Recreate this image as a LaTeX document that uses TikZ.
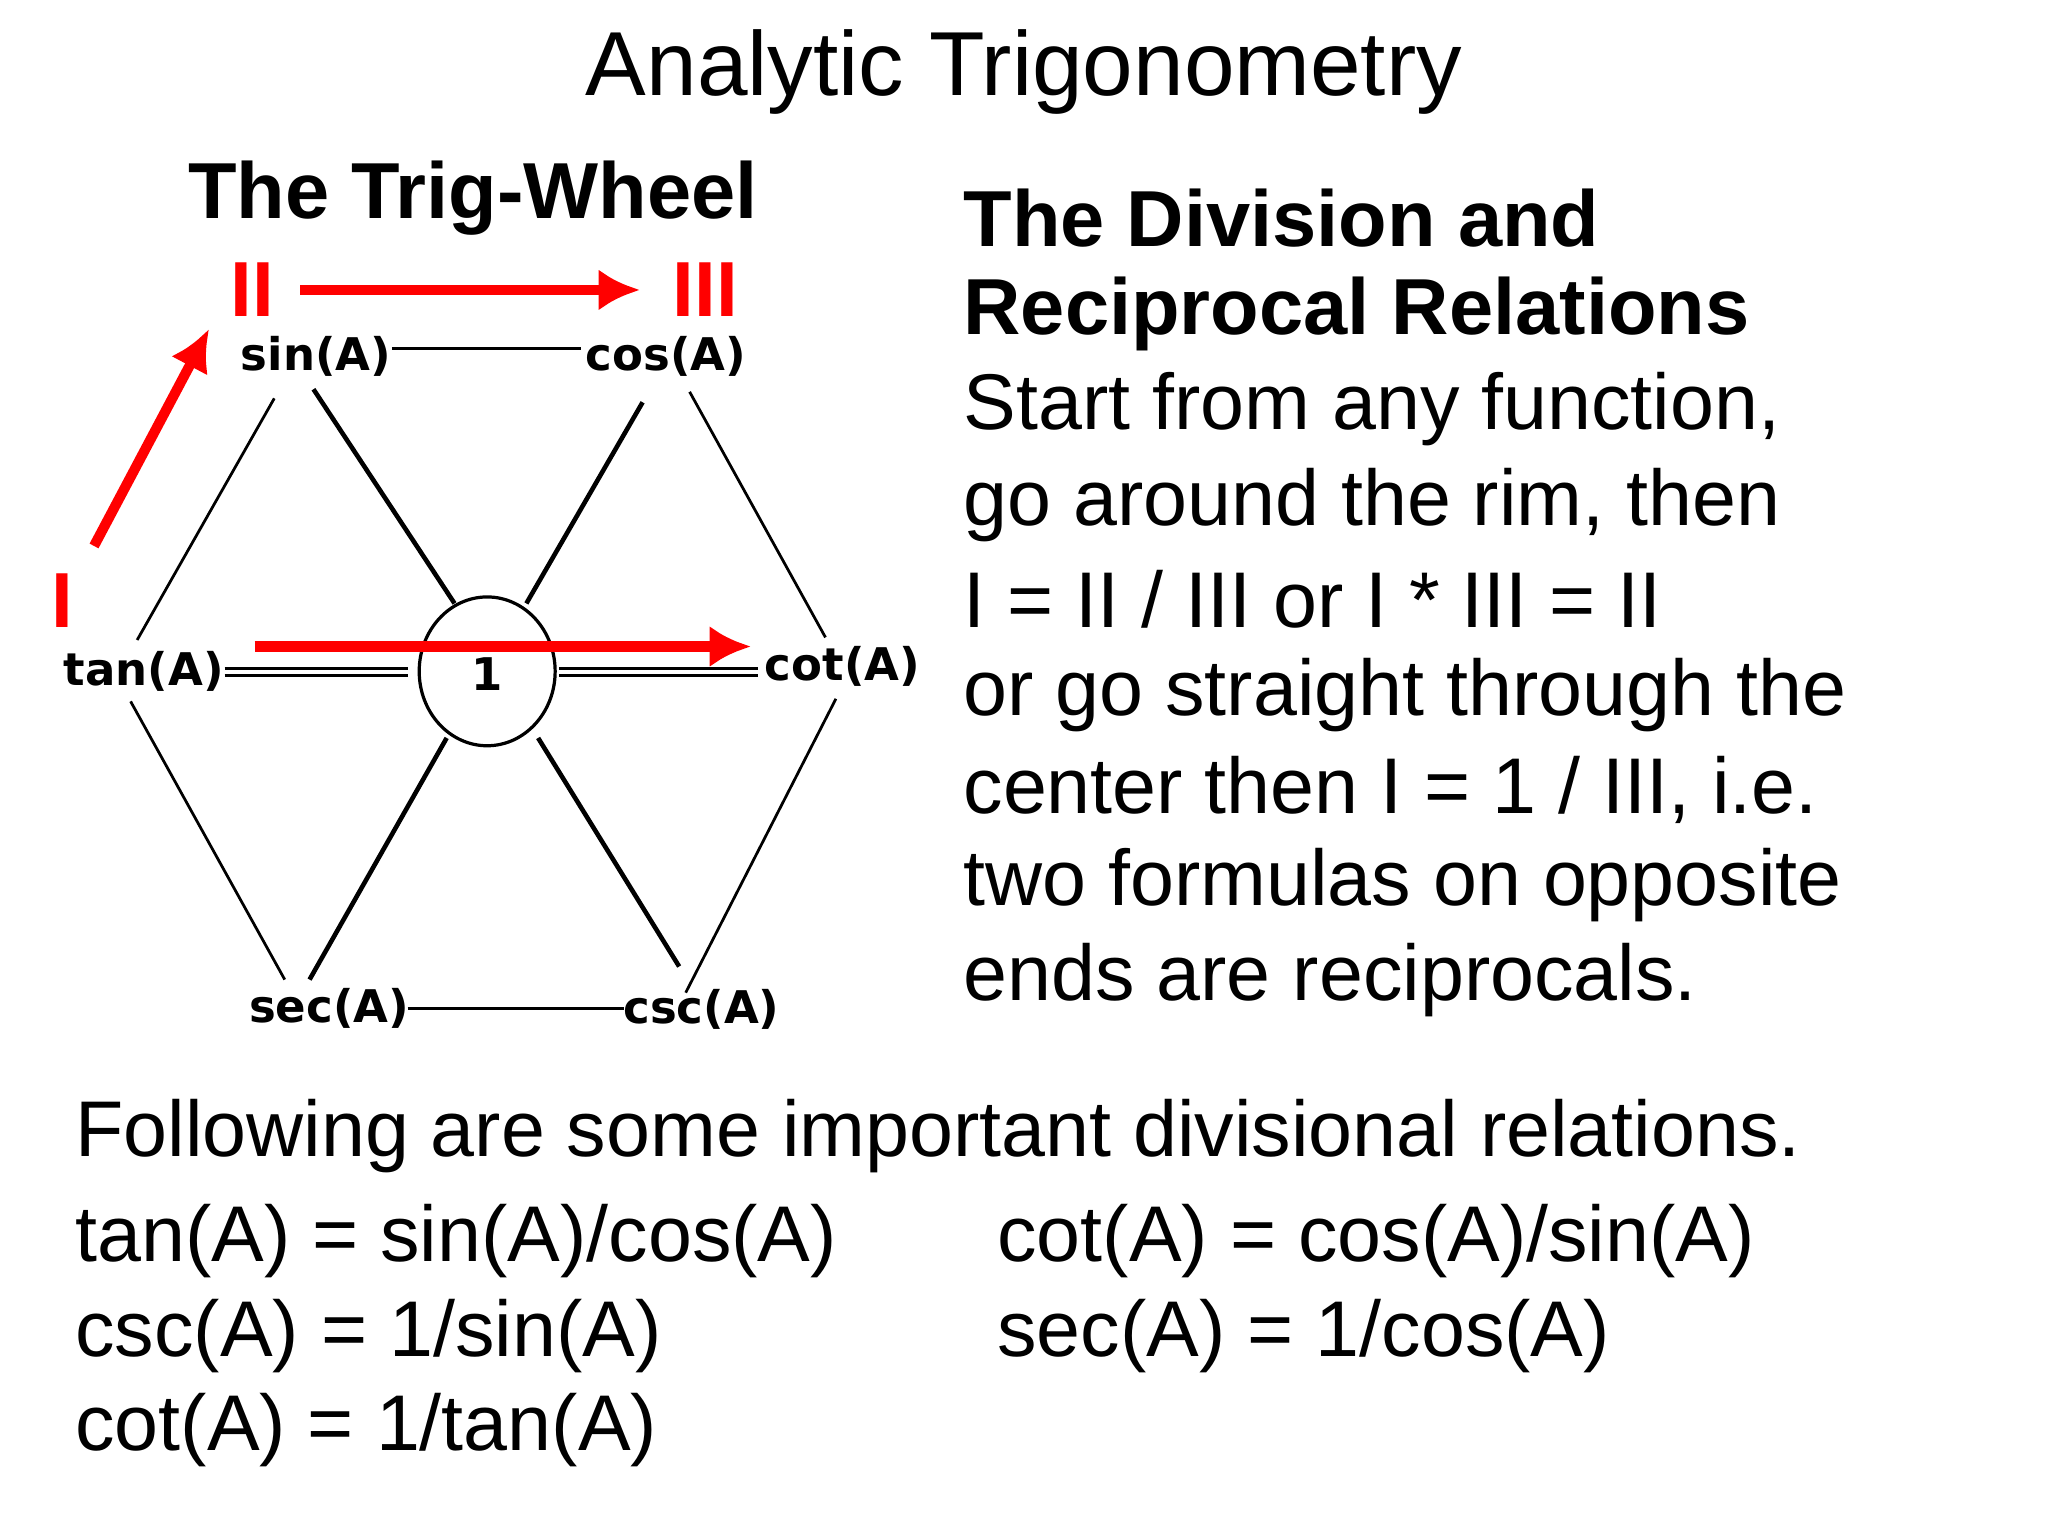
\documentclass[tikz,border=0pt]{standalone}
\usepackage{fontspec}
\setmainfont{Liberation Sans}
\newfontfamily\wheelfont{DejaVu Sans}
\usetikzlibrary{arrows.meta,shapes.geometric}
\begin{document}
\begin{tikzpicture}[x=0.01cm,y=-0.01cm,
  lab/.style={font=\wheelfont\bfseries\fontsize{9.8}{12}\selectfont, inner sep=1pt},
  body/.style={anchor=west, inner sep=0pt, font=\fontsize{17.2}{20}\selectfont},
  head/.style={anchor=west, inner sep=0pt, font=\bfseries\fontsize{17.3}{20}\selectfont},
  wl/.style={line width=0.6pt},
  rarrow/.style={red, line width=2.2pt, -{Latex[length=9pt,width=9pt]}},
  rlab/.style={red, font=\bfseries\fontsize{17}{19}\selectfont, inner sep=0pt}]
\useasboundingbox (0,0) rectangle (1568,1176);
\node[font=\fontsize{19.8}{23}\selectfont] (title) at (784,55) {Analytic Trigonometry};
\node[font=\bfseries\fontsize{17.3}{20}\selectfont] (tw) at (362,152) {The Trig-Wheel};
% wheel labels
\node[lab] (sin) at (242,273) {sin(A)};
\node[lab] (cos) at (510,273) {cos(A)};
\node[lab] (tan) at (110,514) {tan(A)};
\node[lab] (cot) at (645,510) {cot(A)};
\node[lab] (sec) at (252,772) {sec(A)};
\node[lab] (csc) at (537,773) {csc(A)};
\node[draw, ellipse, minimum width=29.6pt, minimum height=32.4pt, inner sep=0pt, line width=0.7pt] (one) at (373,514) {};
\node[lab] at (373,516) {1};
% rim lines
\draw[wl] (300,267) -- (445,267);
\draw[wl] (312,772) -- (478,772);
\draw[wl] (172,512) -- (312,512); \draw[wl] (172,517) -- (312,517);
\draw[wl] (428,512) -- (580,512); \draw[wl] (428,517) -- (580,517);
\draw[wl] (210,305) -- (105,490);
\draw[wl] (528,300) -- (632,488);
\draw[wl] (100,537) -- (218,750);
\draw[wl] (640,535) -- (525,760);
% spokes
\draw[wl,line width=1pt] (240,298) -- (348,462);
\draw[wl,line width=1pt] (492,308) -- (403,462);
\draw[wl,line width=1pt] (342,565) -- (237,750);
\draw[wl,line width=1pt] (412,565) -- (520,740);
% red
\node[rlab] (r1) at (48,460) {I};
\node[rlab] (r2) at (193,222) {II};
\node[rlab] (r3) at (540,222) {III};
\draw[rarrow] (72,418) -- (160,252);
\draw[rarrow] (230,222) -- (490,222);
\draw[rarrow] (195,495) -- (575,495);
% right text
\node[head] at (737,167) {The Division and};
\node[head] at (737,240) {Reciprocal Relations};
\node[body] at (737,313) {Start from any function,};
\node[body] at (737,387) {go around the rim, then};
\node[body] at (737,459) {I = II / III or I * III = II};
\node[body] at (737,532) {or go straight through the};
\node[body] at (737,605) {center then I = 1 / III, i.e.};
\node[body] at (737,678) {two formulas on opposite};
\node[body] at (737,750) {ends are reciprocals.};
% bottom
\node[body] at (57,870) {Following are some important divisional relations.};
\node[body] at (57,950) {tan(A) = sin(A)/cos(A)};
\node[body] at (57,1023) {csc(A) = 1/sin(A)};
\node[body] at (57,1095) {cot(A) = 1/tan(A)};
\node[body] at (763,950) {cot(A) = cos(A)/sin(A)};
\node[body] at (763,1023) {sec(A) = 1/cos(A)};
\end{tikzpicture}
\end{document}
